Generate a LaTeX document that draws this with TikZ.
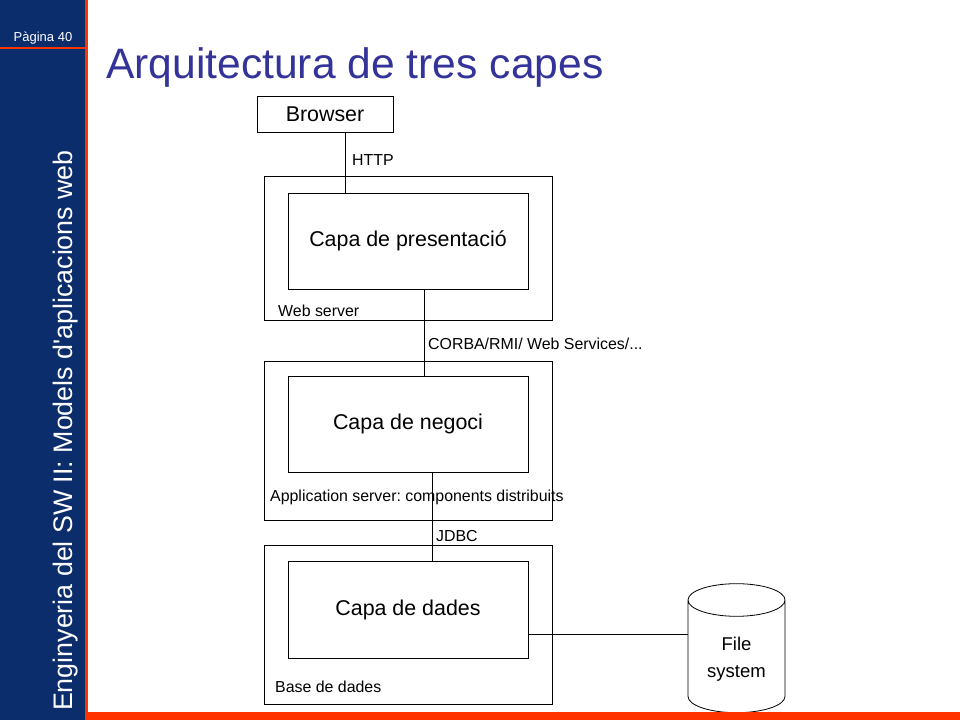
\documentclass[tikz,border=0pt]{standalone}
\usepackage{fontspec}
\setmainfont{Liberation Sans}[Ligatures=TeXOff]
\usetikzlibrary{shapes.geometric}
\frenchspacing

\definecolor{sidenavy}{HTML}{0B2D6B}
\definecolor{slideorange}{HTML}{FF3300}
\definecolor{titleblue}{HTML}{333399}

\tikzset{
	tier/.style={shape=rectangle, draw, line width=0.8pt, minimum width=288pt},
	layer/.style={shape=rectangle, draw, fill=white, line width=0.8pt,
		minimum width=240pt, minimum height=96pt,
		font=\fontsize{21.4}{25}\selectfont},
	tag/.style={anchor=base west, inner sep=0pt,
		font=\fontsize{15.9}{19}\selectfont},
	wire/.style={line width=0.8pt},
}

\begin{document}
\begin{tikzpicture}[x=1pt, y=-1pt]
	\useasboundingbox (0,0) rectangle (960,720);
	% Slide frame:
	\fill[sidenavy] (0,0) rectangle (85,720);
	\fill[slideorange] (85,0) rectangle (88,720);
	\fill[slideorange] (0,47) rectangle (85,49);
	\node[text=white, anchor=base, font=\fontsize{13}{15}\selectfont]
	(page) at (43,41.5){Pàgina 40};
	\node[text=white, rotate=90, anchor=base, font=\fontsize{26.8}{30}\selectfont]
	(course) at (72,430.5){Enginyeria del SW II: Models d'aplicacions web};
	\node[text=titleblue, anchor=base west, inner sep=0pt,
	font=\fontsize{42.6}{50}\selectfont] (title) at (106,78){Arquitectura de tres capes};
	
	% Client
	\node[shape=rectangle, draw, line width=0.8pt, minimum width=136pt,
	minimum height=36pt, font=\fontsize{21.4}{25}\selectfont]
	(browser) at (325,114){Browser};
	
	% Servers (outer boxes)
	\node[tier, minimum height=144pt] (websrv) at (408,248){};
	\node[tier, minimum height=159pt] (appsrv) at (408,440.5){};
	\node[tier, minimum height=159pt] (dbsrv) at (408,624.5){};
	
	% Layers (inner boxes)
	\node[layer] (pres) at (408,241){Capa de presentació};
	\node[layer] (negoci) at (408,424){Capa de negoci};
	\node[layer, minimum height=97pt] (dades) at (408,609.5){Capa de dades};
	
	% File system store, its foot runs under the bottom bar
	\node[cylinder, shape border rotate=90, draw, line width=0.8pt, aspect=0.5,
	minimum width=97pt, minimum height=129pt, align=center,
	font=\fontsize{18.5}{27}\selectfont] (fs) at (736.5,659.5){File\\system};
	
	% Labels of the boxes and links
	\node[tag] (webl) at (278,316){Web server};
	\node[tag] (appl) at (270,501.5){Application server: components distribuits};
	\node[tag] (dbl) at (275,692.5){Base de dades};
	\node[tag] (httpl) at (352,165.5){HTTP};
	\node[tag] (corbal) at (428,349.5){CORBA/RMI/ Web Services/...};
	\node[tag] (jdbcl) at (436,541.5){JDBC};
	
	% Links
	\draw[wire] ([xshift=20pt]browser.south) -- ([xshift=20pt]browser.south |- pres.north);
	\draw[wire] ([xshift=16pt]pres.south) -- ([xshift=16pt]negoci.north);
	\draw[wire] ([xshift=24pt]negoci.south) -- ([xshift=24pt]dades.north);
	\draw[wire] ([yshift=-24.5pt]dades.east) -- ([yshift=-24.5pt]dades.east -| fs.west);
	
	% Bottom bar
	\fill[slideorange] (85,712) rectangle (960,720);
\end{tikzpicture}
\end{document}
